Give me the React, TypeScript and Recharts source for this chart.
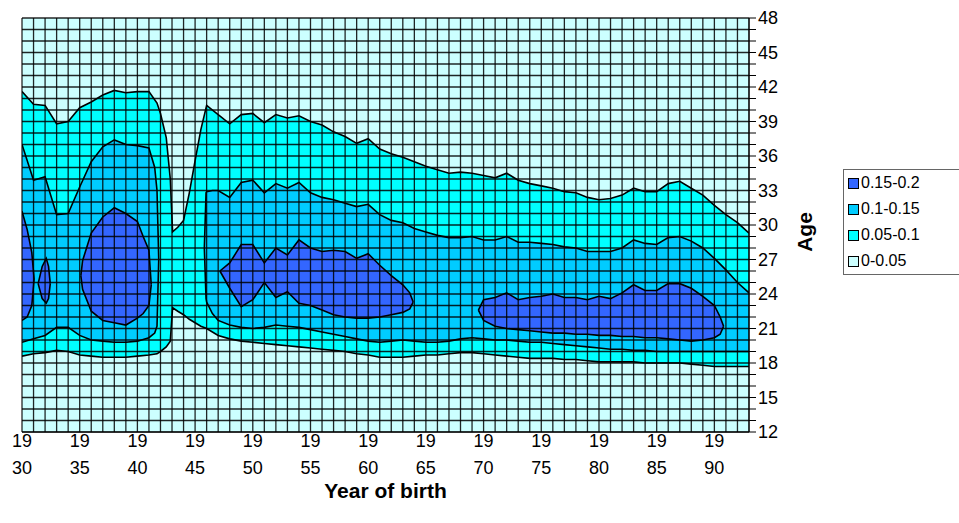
import { Area, CartesianGrid, ComposedChart, Label, XAxis, YAxis } from "recharts";

// each point: [year of birth, lower age, upper age] of a contour band
type BandPoint = [number, number, number];

const YEAR_LABELS = [1930, 1935, 1940, 1945, 1950, 1955, 1960, 1965, 1970, 1975, 1980, 1985, 1990];
const AGE_LABELS = [12, 15, 18, 21, 24, 27, 30, 33, 36, 39, 42, 45, 48];
const YEAR_TICKS = Array.from({ length: 64 }, (_, i) => 1930 + i);
const AGE_TICKS = Array.from({ length: 37 }, (_, i) => 12 + i);

const LEVELS = [
  { name: "0.15-0.2", color: "#3366FF" },
  { name: "0.1-0.15", color: "#00CCFF" },
  { name: "0.05-0.1", color: "#00FFFF" },
  { name: "0-0.05", color: "#CCFFFF" },
];

const band00: BandPoint[] = [
  [1930, 12, 48],
  [1993, 12, 48],
];

const band05: BandPoint[] = [
  [1930, 18.6, 41.6], [1931, 18.8, 40.5], [1932, 18.9, 40.4], [1933, 19.1, 38.8],
  [1934, 19.0, 39.0], [1935, 18.7, 40.2], [1936, 18.6, 40.7], [1937, 18.5, 41.3],
  [1938, 18.5, 41.7], [1939, 18.5, 41.5], [1940, 18.6, 41.6], [1941, 18.7, 41.6],
  [1941.7, 18.8, 40.6], [1942, 19.0, 39.7], [1942.5, 19.4, 37.6], [1942.85, 19.9, 34.0],
  [1943.05, 22.8, 29.4], [1943.5, 22.5, 29.8], [1944, 22.2, 30.4], [1944.5, 21.8, 32.8],
  [1945, 21.5, 35.6], [1945.5, 21.2, 38.3], [1946, 21.0, 40.4], [1947, 20.4, 39.6],
  [1948, 20.1, 38.8], [1949, 19.9, 39.6], [1950, 19.8, 39.7], [1951, 19.7, 38.9],
  [1952, 19.6, 39.6], [1953, 19.5, 39.3], [1954, 19.4, 39.5], [1955, 19.3, 39.0],
  [1956, 19.2, 38.7], [1957, 19.1, 38.1], [1958, 19.0, 37.7], [1959, 18.8, 37.1],
  [1960, 18.7, 37.5], [1961, 18.5, 36.6], [1962, 18.5, 36.2], [1963, 18.5, 35.9],
  [1964, 18.6, 35.5], [1965, 18.7, 35.1], [1966, 18.7, 34.8], [1967, 18.8, 34.5],
  [1968, 18.9, 34.6], [1969, 18.9, 34.5], [1970, 18.8, 34.3], [1971, 18.7, 34.1],
  [1972, 18.6, 34.5], [1973, 18.5, 33.9], [1974, 18.4, 33.6], [1975, 18.4, 33.4],
  [1976, 18.4, 33.2], [1977, 18.3, 32.9], [1978, 18.3, 32.8], [1979, 18.2, 32.4],
  [1980, 18.1, 32.2], [1981, 18.1, 32.3], [1982, 18.1, 32.6], [1983, 18.1, 33.2],
  [1984, 18.0, 32.9], [1985, 18.0, 32.9], [1986, 18.0, 33.6], [1987, 18.0, 33.8],
  [1988, 17.9, 33.2], [1989, 17.8, 32.6], [1990, 17.7, 31.7], [1991, 17.7, 30.9],
  [1992, 17.7, 30.2], [1993, 17.7, 29.3],
];

const band10West: BandPoint[] = [
  [1930, 19.8, 37.0], [1931, 20.1, 33.9], [1932, 20.4, 34.2], [1933, 21.1, 30.9],
  [1934, 21.1, 31.0], [1935, 20.4, 33.3], [1936, 20.0, 35.5], [1937, 19.9, 36.8],
  [1938, 19.8, 37.4], [1939, 19.8, 37.0], [1940, 19.9, 36.9], [1941, 20.2, 36.7],
  [1941.5, 20.6, 35.0], [1941.7, 21.2, 33.0], [1941.85, 27.0, 27.0],
];

const band10East: BandPoint[] = [
  [1945.8, 28.0, 28.0], [1945.95, 23.6, 32.8], [1946, 23.3, 32.9], [1946.5, 22.3, 33.0],
  [1947, 21.7, 33.0], [1948, 21.3, 32.4], [1949, 21.1, 33.7], [1950, 21.0, 33.9],
  [1951, 21.1, 32.8], [1952, 21.3, 33.6], [1953, 21.2, 33.2], [1954, 21.1, 33.7],
  [1955, 20.9, 32.8], [1956, 20.7, 32.4], [1957, 20.5, 32.2], [1958, 20.3, 31.9],
  [1959, 20.1, 31.6], [1960, 19.9, 31.8], [1961, 19.8, 30.9], [1962, 19.9, 30.4],
  [1963, 20.0, 30.2], [1964, 19.9, 29.7], [1965, 19.8, 29.4], [1966, 19.8, 29.1],
  [1967, 19.9, 28.9], [1968, 20.1, 28.9], [1969, 20.2, 29.0], [1970, 20.1, 28.7],
  [1971, 20.0, 28.7], [1972, 20.0, 29.0], [1973, 19.9, 28.5], [1974, 19.8, 28.5],
  [1975, 19.8, 28.4], [1976, 19.7, 28.3], [1977, 19.6, 28.1], [1978, 19.5, 28.0],
  [1979, 19.4, 27.7], [1980, 19.3, 27.7], [1981, 19.2, 27.7], [1982, 19.2, 28.0],
  [1983, 19.1, 28.7], [1984, 19.1, 28.4], [1985, 19.0, 28.3], [1986, 19.0, 28.9],
  [1987, 19.0, 29.0], [1988, 19.0, 28.6], [1989, 19.0, 28.0], [1990, 19.0, 27.1],
  [1991, 19.0, 26.1], [1992, 19.0, 25.0], [1993, 19.0, 24.1],
];

const band15A: BandPoint[] = [
  [1930, 21.7, 31.2], [1930.45, 22.0, 29.6], [1930.85, 23.0, 27.6], [1931.05, 25.3, 25.3],
];

const band15B: BandPoint[] = [
  [1931.4, 24.9, 24.9], [1931.75, 23.6, 26.4], [1932.1, 23.2, 27.1], [1932.3, 23.6, 26.4],
  [1932.45, 24.9, 24.9],
];

const band15C: BandPoint[] = [
  [1935.1, 25.6, 25.6], [1935.25, 24.4, 26.9], [1936, 22.5, 29.3], [1937, 21.7, 30.7],
  [1938, 21.5, 31.5], [1939, 21.3, 31.0], [1940, 21.9, 30.3], [1940.5, 22.3, 29.0],
  [1941, 23.0, 27.8], [1941.2, 24.8, 24.8],
];

const band15D: BandPoint[] = [
  [1947.15, 26.0, 26.0], [1948, 24.5, 26.7], [1949, 22.9, 28.3], [1950, 23.5, 28.3],
  [1951, 25.0, 26.7], [1952, 23.7, 28.0], [1953, 24.2, 27.4], [1954, 23.2, 28.7],
  [1955, 23.0, 28.0], [1956, 22.6, 27.7], [1957, 22.2, 27.8], [1958, 22.0, 27.7],
  [1959, 21.9, 27.1], [1960, 21.9, 27.5], [1961, 22.0, 26.5], [1962, 22.2, 25.6],
  [1963, 22.4, 24.8], [1963.6, 22.7, 24.1], [1963.9, 23.3, 23.3],
];

const band15E: BandPoint[] = [
  [1969.55, 22.6, 22.6], [1970, 21.7, 23.5], [1971, 21.2, 23.7], [1972, 21.0, 24.1],
  [1973, 20.9, 23.5], [1974, 20.8, 23.7], [1975, 20.7, 23.8], [1976, 20.6, 24.0],
  [1977, 20.6, 23.7], [1978, 20.5, 23.7], [1979, 20.5, 23.5], [1980, 20.4, 23.8],
  [1981, 20.4, 23.6], [1982, 20.3, 24.1], [1983, 20.3, 24.8], [1984, 20.2, 24.3],
  [1985, 20.2, 24.3], [1986, 20.1, 24.9], [1987, 20.0, 24.9], [1988, 19.9, 24.5],
  [1989, 20.0, 23.8], [1990, 20.2, 23.0], [1990.5, 20.5, 22.0], [1990.8, 21.2, 21.2],
];

// drawn back to front: lowest level first
const BANDS: { id: string; color: string; points: BandPoint[]; outline: boolean }[] = [
  { id: "b00", color: LEVELS[3].color, points: band00, outline: false },
  { id: "b05", color: LEVELS[2].color, points: band05, outline: true },
  { id: "b10w", color: LEVELS[1].color, points: band10West, outline: true },
  { id: "b10e", color: LEVELS[1].color, points: band10East, outline: true },
  { id: "b15a", color: LEVELS[0].color, points: band15A, outline: true },
  { id: "b15b", color: LEVELS[0].color, points: band15B, outline: true },
  { id: "b15c", color: LEVELS[0].color, points: band15C, outline: true },
  { id: "b15d", color: LEVELS[0].color, points: band15D, outline: true },
  { id: "b15e", color: LEVELS[0].color, points: band15E, outline: true },
];

const toRows = (points: BandPoint[]) =>
  points.map(([year, low, high]) => ({ year, range: [low, high] }));

const YearTick = ({ x, y, payload }: any) => {
  if (!YEAR_LABELS.includes(payload.value)) return <g />;
  const label = String(payload.value);
  return (
    <g>
      <text x={x} y={y + 15} textAnchor="middle" fontSize={18} fill="#000">
        {label.slice(0, 2)}
      </text>
      <text x={x} y={y + 42} textAnchor="middle" fontSize={18} fill="#000">
        {label.slice(2)}
      </text>
    </g>
  );
};

const XTitle = ({ viewBox }: any) => {
  const vb = viewBox ?? { x: 22, y: 432, width: 727 };
  return (
    <text x={vb.x + vb.width / 2} y={vb.y + 66} textAnchor="middle" fontSize={21} fontWeight="bold" fill="#000">
      Year of birth
    </text>
  );
};

const YTitle = ({ viewBox }: any) => {
  const vb = viewBox ?? { x: 749, y: 18, width: 50, height: 414 };
  const cx = vb.x + 63;
  const cy = vb.y + vb.height / 2 + 7;
  return (
    <text x={cx} y={cy} transform={`rotate(-90, ${cx}, ${cy})`} textAnchor="middle" fontSize={21} fontWeight="bold" fill="#000">
      Age
    </text>
  );
};

export default function App() {
  return (
    <div
      style={{
        position: "absolute",
        left: 0,
        top: 0,
        width: 959,
        height: 523,
        background: "#fff",
        fontFamily: "'Liberation Sans', Arial, sans-serif",
      }}
    >
      <ComposedChart width={959} height={523} margin={{ top: 18, right: 160, bottom: 41, left: 22 }}>
        <XAxis
          dataKey="year"
          type="number"
          domain={[1930, 1993]}
          allowDataOverflow
          ticks={YEAR_TICKS}
          interval={0}
          tick={<YearTick />}
          tickLine={false}
          tickSize={0}
          tickMargin={0}
          height={50}
          axisLine={{ stroke: "#000" }}
        >
          <Label content={<XTitle />} />
        </XAxis>
        <YAxis
          orientation="right"
          type="number"
          domain={[12, 48]}
          allowDataOverflow
          ticks={AGE_TICKS}
          interval={0}
          width={50}
          tickSize={7}
          tickMargin={2}
          tickFormatter={(v: number) => (AGE_LABELS.includes(v) ? String(v) : "")}
          tick={{ fontSize: 18, fill: "#000" }}
          tickLine={{ stroke: "#000" }}
          axisLine={{ stroke: "#000" }}
        >
          <Label content={<YTitle />} />
        </YAxis>
        {BANDS.map((band) => (
          <Area
            key={band.id}
            data={toRows(band.points)}
            dataKey="range"
            type="linear"
            fill={band.color}
            fillOpacity={1}
            stroke={band.outline ? "#000" : "none"}
            strokeWidth={1.6}
            dot={false}
            activeDot={false}
            isAnimationActive={false}
          />
        ))}
        <CartesianGrid stroke="#000" strokeWidth={1.3} strokeOpacity={0.85} fill="none" zIndex={800} />
      </ComposedChart>
      <div
        style={{
          position: "absolute",
          left: 843,
          top: 169,
          width: 113,
          border: "1px solid #666",
          background: "#fff",
          padding: "0 0 0 4px",
        }}
      >
        {LEVELS.map((level) => (
          <div key={level.name} style={{ display: "flex", alignItems: "center", height: 26, fontSize: 16, color: "#000" }}>
            <span
              style={{
                display: "inline-block",
                width: 9,
                height: 9,
                background: level.color,
                border: "1px solid #000",
                marginRight: 2,
              }}
            />
            {level.name}
          </div>
        ))}
      </div>
    </div>
  );
}
